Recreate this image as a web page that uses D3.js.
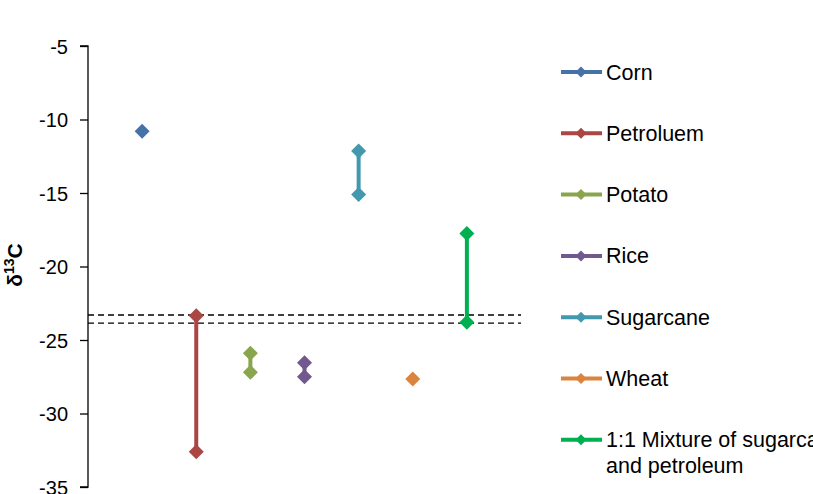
<!DOCTYPE html>
<html><head><meta charset="utf-8">
<script src="https://cdn.jsdelivr.net/npm/d3@7"></script>
<style>body{margin:0;background:#fff;overflow:hidden}svg{display:block;font-family:"Liberation Sans",Arial,sans-serif}</style>
</head><body>
<script>
const seriesNames = ["Corn","Petroluem","Potato","Rice","Sugarcane","Wheat","1:1 Mixture of sugarcane and petroleum"];
const seriesColors = ["#4572A7","#AA4643","#89A54E","#71588F","#4198AF","#DB843D","#00B050"];
const seriesPos = [1,2,3,4,5,6,7];
const seriesHigh = [-10.8,-23.35,-25.9,-26.55,-12.15,-27.65,-17.75];
const seriesLow  = [-10.8,-32.6,-27.2,-27.5,-15.1,-27.65,-23.8];
const refLines = [-23.3,-23.85];
const yTicks = [-5,-10,-15,-20,-25,-30,-35];

const W=813,H=494;
const svg=d3.select("body").append("svg").attr("width",W).attr("height",H);
const x=d3.scaleLinear().domain([0,8]).range([88,521]);
const y=d3.scaleLinear().domain([-35,-5]).range([487,46]);

// y axis
const ax=svg.append("g").attr("transform","translate(88,0)")
  .call(d3.axisLeft(y).tickValues(yTicks).tickSize(8).tickPadding(12).tickFormat(d=>String(d)));
ax.select(".domain").attr("stroke","#000").attr("stroke-width",1.3).attr("d","M-8,"+y(-5)+"H0V"+y(-35)+"H-8");
ax.selectAll(".tick line").attr("stroke","#000").attr("stroke-width",1.3);
ax.selectAll(".tick text").attr("font-size",20).attr("fill","#000").attr("font-family","Liberation Sans, Arial, sans-serif").attr("dy","0.35em");

// y label
const yl=svg.append("text").attr("transform","translate(22,265) rotate(-90)")
  .attr("text-anchor","middle").attr("font-weight","bold").attr("font-size",21).attr("fill","#000");
yl.append("tspan").text("δ");
yl.append("tspan").text("13").attr("font-size",14).attr("dy",-8);
yl.append("tspan").text("C").attr("dy",8);

// reference dashed lines
svg.selectAll("line.ref").data(refLines).enter().append("line")
  .attr("x1",x(0)).attr("x2",x(8)).attr("y1",d=>y(d)).attr("y2",d=>y(d))
  .attr("stroke","#000").attr("stroke-width",1.3).attr("stroke-dasharray","6,4");

function diamondPath(s){return "M0,"+(-s)+"L"+s+",0L0,"+s+"L"+(-s)+",0Z";}

const data=seriesNames.map((n,i)=>({n,c:seriesColors[i],p:seriesPos[i],hi:seriesHigh[i],lo:seriesLow[i]}));
const g=svg.append("g");
g.selectAll("line.rng").data(data).enter().append("line")
  .attr("x1",d=>x(d.p)).attr("x2",d=>x(d.p)).attr("y1",d=>y(d.hi)).attr("y2",d=>y(d.lo))
  .attr("stroke",d=>d.c).attr("stroke-width",4);
data.forEach(d=>{
  const vals = d.hi===d.lo?[d.hi]:[d.hi,d.lo];
  vals.forEach(v=>{
    g.append("path").attr("d",diamondPath(7.5)).attr("fill",d.c)
     .attr("transform","translate("+x(d.p)+","+y(v)+")");
  });
});

// legend
const leg=svg.append("g");
const legY0=72, legDy=61.3;
data.forEach((d,i)=>{
  const yy=legY0+i*legDy;
  leg.append("line").attr("x1",561).attr("x2",602).attr("y1",yy).attr("y2",yy).attr("stroke",d.c).attr("stroke-width",4);
  leg.append("path").attr("d",diamondPath(5.5)).attr("fill",d.c).attr("transform","translate(581,"+yy+")");
  const t=leg.append("text").attr("x",606).attr("y",yy).attr("font-size",21.5).attr("fill","#000").attr("dy","0.35em");
  if(i===6){
    t.append("tspan").text("1:1 Mixture of sugarcane");
    t.append("tspan").attr("x",606).attr("dy",26).text("and petroleum");
  } else t.text(d.n);
});
</script>
</body></html>
